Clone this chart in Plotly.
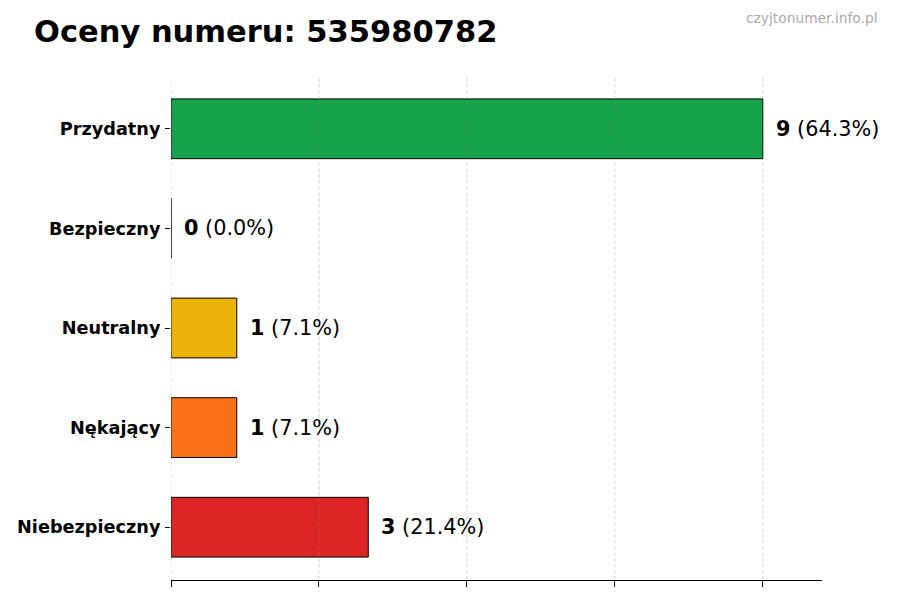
import plotly.graph_objects as go

categories = ["Przydatny", "Bezpieczny", "Neutralny", "Nękający", "Niebezpieczny"]
counts = [9, 0, 1, 1, 3]
colors = ["#16a34a", "#3b82f6", "#eab308", "#f97316", "#dc2626"]
title_text = "Oceny numeru: 535980782"
watermark = "czyjtonumer.info.pl"
xticks = [0, 2.25, 4.5, 6.75, 9]

total = sum(counts)
ypos = list(range(len(categories)))

# browser body has an 8px margin; the figure is sized/positioned to compensate
OFF = 8
W, H = 900 - OFF, 600 - OFF
L, R, T, B = 171 - OFF, 78, 76 - OFF, 20

fig = go.Figure()
fig.add_trace(go.Bar(
    x=counts, y=ypos, orientation="h", width=0.6,
    marker=dict(color=colors, line=dict(color="black", width=1)),
    hoverinfo="skip",
))

for i, c in enumerate(counts):
    pct = 100 * c / total if total else 0
    fig.add_annotation(
        x=c, y=i, xref="x", yref="y", xanchor="left", yanchor="middle",
        xshift=11, showarrow=False,
        text=f"<b>{c}</b> ({pct:.1f}%)",
        font=dict(family="DejaVu Sans", size=20.8, color="black"),
    )

# grid lines drawn above the bars
for t in xticks:
    fig.add_shape(
        type="line", xref="x", yref="paper", x0=t, x1=t, y0=0, y1=1,
        line=dict(color="rgba(140,140,140,0.32)", width=1, dash="4px,2px"),
        layer="above",
    )

pw = W - L - R
ph = H - T - B
fig.add_annotation(
    xref="paper", yref="paper",
    x=(880 - OFF - L) / pw, y=(H - B - (18 - OFF)) / ph,
    text=watermark, showarrow=False, xanchor="right", yanchor="middle",
    font=dict(family="DejaVu Sans", size=13.8, color="#aaaaaa"),
)

fig.update_layout(
    width=W, height=H,
    margin=dict(l=L, r=R, t=T, b=B, autoexpand=False),
    paper_bgcolor="white", plot_bgcolor="white",
    showlegend=False,
    font=dict(family="DejaVu Sans", color="black"),
    title=dict(text=f"<b>{title_text}</b>", x=(34 - OFF) / W, xanchor="left",
               y=1 - (31 - OFF) / H, yanchor="middle", xref="container", yref="container",
               font=dict(family="DejaVu Sans", size=30.5, color="black")),
)

fig.update_xaxes(
    range=[0, 9.9], tickvals=xticks, ticktext=[""] * len(xticks),
    ticks="outside", ticklen=6, tickcolor="black", tickwidth=1,
    showgrid=False, automargin=False,
    showline=True, linecolor="black", linewidth=1.3,
    zeroline=False, fixedrange=True,
)
fig.update_yaxes(
    range=[4.53, -0.53], tickvals=ypos, ticktext=[f"<b>{c}</b>" for c in categories],
    ticks="outside", ticklen=5, tickcolor="black", ticklabelstandoff=1,
    tickfont=dict(family="DejaVu Sans", size=17.7, color="black"), automargin=False,
    showgrid=False, showline=False, zeroline=False, fixedrange=True,
)

fig.write_html("out.html")
